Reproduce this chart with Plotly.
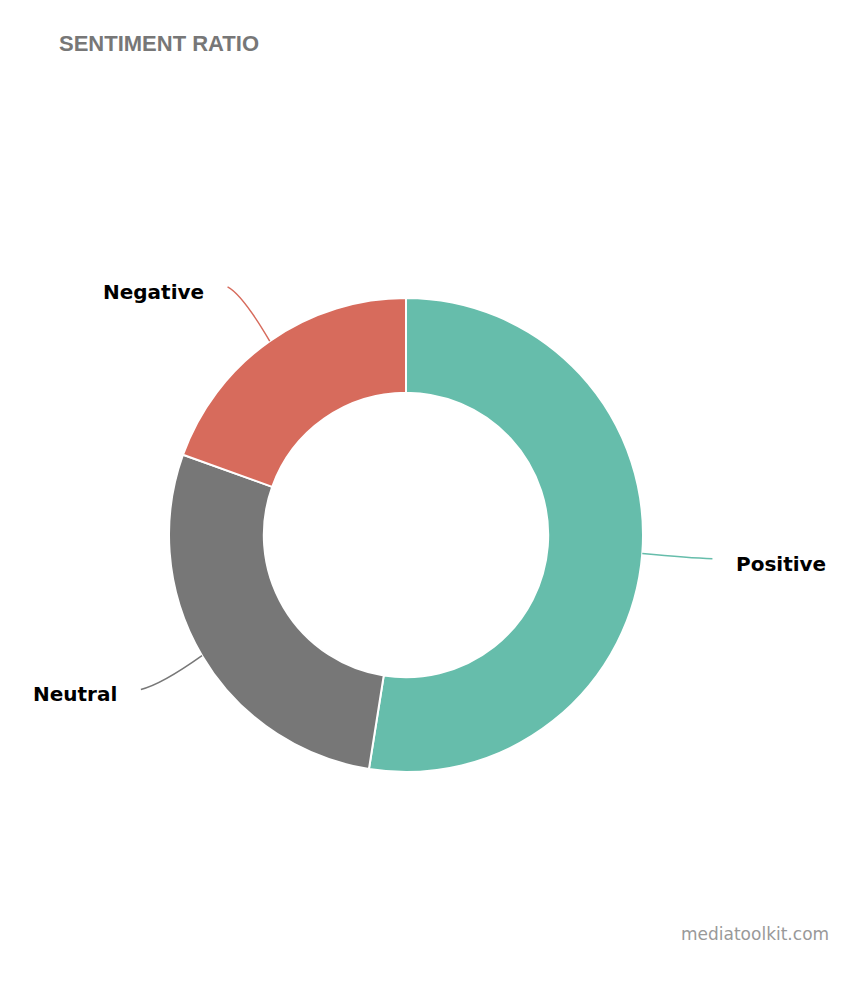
import math
import plotly.graph_objects as go

# sentiment shares (percent)
labels = ["Positive", "Neutral", "Negative"]
values = [52.5, 28.0, 19.5]
colors = ["#66BDAB", "#777777", "#D76B5C"]

# page body has an 8px margin, so the figure is a bit smaller than the window
OFF = 8
W, H = 864 - 2 * OFF, 984 - 2 * OFF
# donut placement in window pixels
CX, CY, R = 406 - OFF, 535 - OFF, 237

fig = go.Figure()
fig.add_trace(go.Pie(
    labels=labels,
    values=values,
    hole=0.6,
    sort=False,
    direction="clockwise",
    rotation=0,
    textinfo="none",
    hoverinfo="label+percent",
    marker=dict(colors=colors, line=dict(color="white", width=2)),
    domain=dict(x=[(CX - R) / W, (CX + R) / W],
                y=[1 - (CY + R) / H, 1 - (CY - R) / H]),
    showlegend=False,
))


def to_paper(px, py):
    return px / W, 1 - py / H


def polar(ang, r):
    # angle clockwise from 12 o'clock, in degrees
    a = math.radians(ang)
    return CX + r * math.sin(a), CY - r * math.cos(a)


shapes = []
annotations = []
total = sum(values)
cum = 0.0
for lab, val, col in zip(labels, values, colors):
    mid = (cum + val / 2) / total * 360
    cum += val
    side = 1 if math.sin(math.radians(mid)) >= 0 else -1
    p0 = polar(mid, R)
    c = polar(mid, R * 1.2)
    p2 = polar(mid, R * 1.28)
    p2 = (p2[0] + side * 4, p2[1])
    c = (c[0], p2[1] + (c[1] - p2[1]) * 0.5)
    pts = [to_paper(*p) for p in (p0, c, p2)]
    path = "M {:.5f},{:.5f} Q {:.5f},{:.5f} {:.5f},{:.5f}".format(
        pts[0][0], pts[0][1], pts[1][0], pts[1][1], pts[2][0], pts[2][1])
    shapes.append(dict(type="path", path=path, xref="paper", yref="paper",
                       line=dict(color=col, width=1.5)))
    tx, ty = to_paper(p2[0] + side * 22, p2[1] + 5)
    annotations.append(dict(
        text="<b>%s</b>" % lab, x=tx, y=ty, xref="paper", yref="paper",
        xanchor="left" if side > 0 else "right", yanchor="middle",
        showarrow=False,
        font=dict(family="DejaVu Sans", size=20, color="#000000"),
    ))

annotations.append(dict(
    text="<b>SENTIMENT RATIO</b>", x=(57 - OFF) / W, y=1 - (43 - OFF) / H,
    xref="paper", yref="paper", xanchor="left", yanchor="middle",
    showarrow=False,
    font=dict(family="Liberation Sans", size=22, color="#777777"),
))
annotations.append(dict(
    text="mediatoolkit.com", x=(831 - OFF) / W, y=1 - (934 - OFF) / H,
    xref="paper", yref="paper", xanchor="right", yanchor="middle",
    showarrow=False,
    font=dict(family="DejaVu Sans", size=17, color="#999999"),
))

fig.update_layout(
    width=W, height=H,
    margin=dict(l=0, r=0, t=0, b=0),
    paper_bgcolor="white",
    plot_bgcolor="white",
    shapes=shapes,
    annotations=annotations,
)

fig.write_html("out.html")
